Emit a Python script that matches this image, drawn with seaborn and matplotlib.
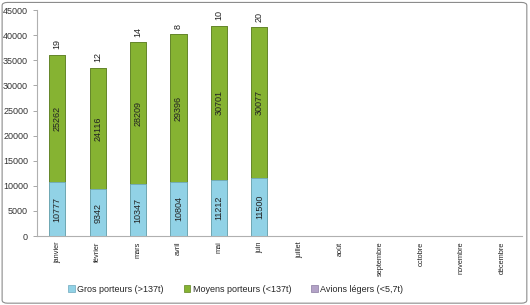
import matplotlib
matplotlib.use("Agg")
import matplotlib.pyplot as plt
from matplotlib.patches import FancyBboxPatch, Patch
import seaborn as sns
import pandas as pd
import numpy as np

months = ["janvier", "février", "mars", "avril", "mai", "juin", "juillet",
          "août", "septembre", "octobre", "novembre", "décembre"]
gros = [10777, 9342, 10347, 10804, 11212, 11500]
moyens = [25262, 24116, 28209, 29396, 30701, 30077]
legers = [19, 12, 14, 8, 10, 20]

series_names = ["Gros porteurs (>137t)", "Moyens porteurs (<137t)", "Avions légers (<5,7t)"]
colors = ["#91d2e6", "#86b332", "#b3a2c7"]
edges = ["#6fa8bd", "#5f8420", "#8a7aa0"]

n = len(gros)
df = pd.DataFrame({
    "mois": months,
    "gros": gros + [np.nan] * (12 - n),
    "moyens": moyens + [np.nan] * (12 - n),
    "legers": legers + [np.nan] * (12 - n),
})
df["c1"] = df["gros"]
df["c2"] = df["gros"] + df["moyens"]
df["c3"] = df["c2"] + df["legers"]

sns.set_style("white")
plt.rcParams["font.family"] = ["Liberation Sans", "DejaVu Sans"]

fig = plt.figure(figsize=(5.3, 3.05), dpi=100)
ax = fig.add_axes([0.070, 0.226, 0.915, 0.741])

# draw cumulative totals from top down so each layer shows its own segment
for col, c, e in [("c3", colors[2], edges[2]), ("c2", colors[1], edges[1]),
                  ("c1", colors[0], edges[0])]:
    sns.barplot(data=df, x="mois", y=col, color=c, width=0.4, ax=ax,
                edgecolor=e, linewidth=0.6, saturation=1, order=months)

for i in range(n):
    ax.text(i, gros[i] / 2, str(gros[i]), rotation=90, ha="center", va="center",
            fontsize=6.5, color="#222222")
    ax.text(i, gros[i] + moyens[i] / 2, str(moyens[i]), rotation=90, ha="center",
            va="center", fontsize=6.5, color="#222222")
    ax.annotate(str(legers[i]), (i, gros[i] + moyens[i] + legers[i]),
                xytext=(0, 4), textcoords="offset points", rotation=90,
                ha="center", va="bottom", fontsize=6.5, color="#222222")

ax.set_ylim(0, 45000)
ax.set_xlim(-0.5, 11.5)
ax.set_yticks(range(0, 45001, 5000))
ax.set_xlabel("")
ax.set_ylabel("")
ax.tick_params(axis="y", labelsize=6.5, colors="#333333", length=3, width=0.6,
               color="#999999", left=True)
ax.tick_params(axis="x", labelsize=5.3, rotation=90, length=0, colors="#222222", pad=4)
for s in ["top", "right"]:
    ax.spines[s].set_visible(False)
for s in ["left", "bottom"]:
    ax.spines[s].set_color("#b0b0b0")
    ax.spines[s].set_linewidth(0.8)

handles = [Patch(facecolor=c, edgecolor=e, linewidth=0.5) for c, e in zip(colors, edges)]
fig.legend(handles, series_names, loc="center", bbox_to_anchor=(0.445, 0.052),
           ncol=3, frameon=False, fontsize=6.5, handlelength=0.7, handleheight=0.7,
           handletextpad=0.3, columnspacing=2.2)

border = FancyBboxPatch((0.004, 0.006), 0.99, 0.986, boxstyle="round,pad=0,rounding_size=0.01",
                        transform=fig.transFigure, facecolor="none", edgecolor="#8c8c8c",
                        linewidth=0.8)
fig.patches.append(border)

fig.savefig("out.png", dpi=100)
